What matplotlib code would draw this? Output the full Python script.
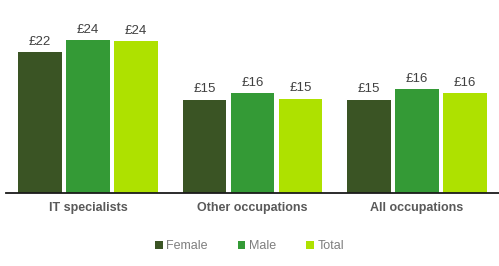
import numpy as np
import matplotlib.pyplot as plt

plt.rcParams['font.family'] = ['Liberation Sans', 'DejaVu Sans']

# Данные: средняя почасовая оплата, £
categories = ['IT specialists', 'Other occupations', 'All occupations']
series = ['Female', 'Male', 'Total']
female = [22.1, 14.6, 14.6]
male = [24.0, 15.6, 16.3]
total = [23.8, 14.8, 15.6]
colors = ['#3a5424', '#349a36', '#aee100']

fig = plt.figure(figsize=(4.99, 2.66), dpi=100)
ax = fig.add_axes([0.012, 0.276, 0.988, 0.645])

x = np.arange(len(categories))
w = 0.264
step = 0.292
for i, (vals, name) in enumerate(zip([female, male, total], series)):
    bars = ax.bar(x + (i - 1) * step, vals, w, color=colors[i], label=name)
    for b, v in zip(bars, vals):
        ax.text(b.get_x() + b.get_width() / 2, v + 0.7, f"£{v:.0f}",
                ha='center', va='bottom', fontsize=9.5, color='#404040')

ax.set_xlim(-0.5, 2.5)
ax.set_ylim(0, 27)
ax.set_yticks([])
ax.set_xticks(x)
ax.set_xticklabels(categories, fontsize=9, fontweight='bold', color='#595959')
ax.tick_params(axis='x', length=0, pad=7)
for s in ['top', 'right', 'left']:
    ax.spines[s].set_visible(False)
ax.spines['bottom'].set_linewidth(1.3)
ax.spines['bottom'].set_color('#1a1a1a')

leg = fig.legend(loc='center', bbox_to_anchor=(0.5, 0.075), ncol=3, frameon=False,
                 fontsize=9, handlelength=0.6, handleheight=0.6,
                 handletextpad=0.3, columnspacing=2.4)
for t in leg.get_texts():
    t.set_color('#7f7f7f')

fig.savefig('out.png', dpi=100)
